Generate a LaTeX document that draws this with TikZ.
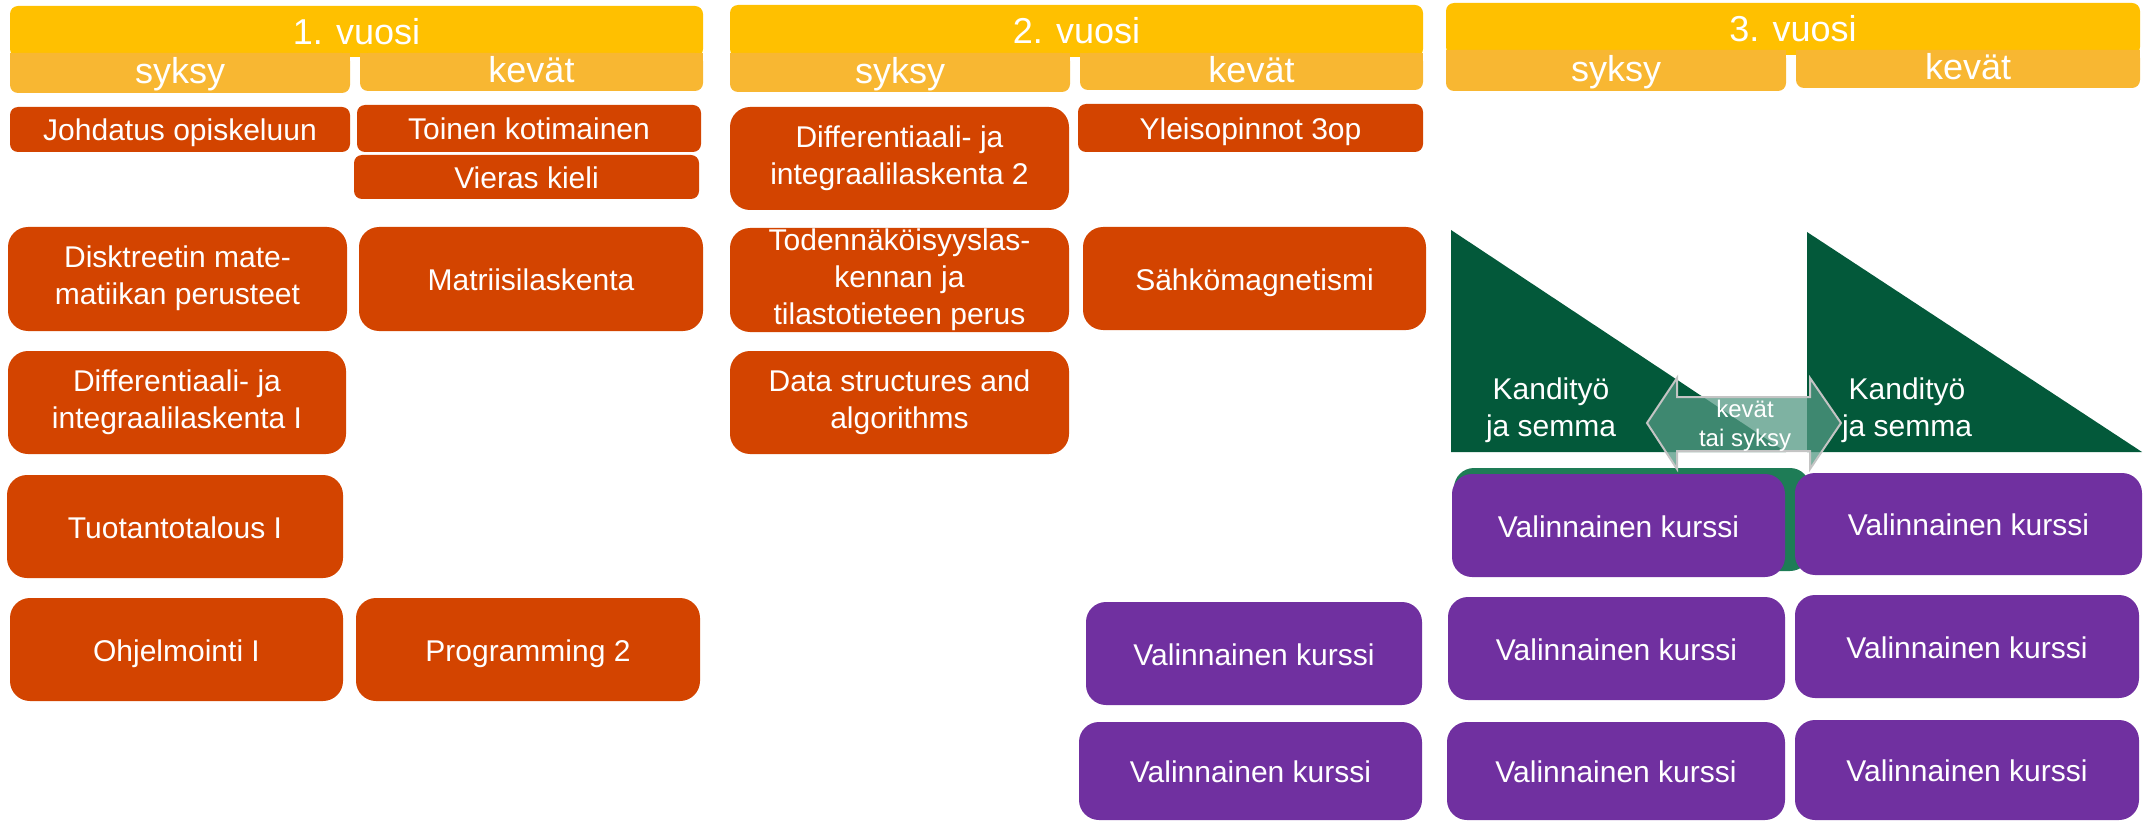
\documentclass[tikz,border=0pt]{standalone}
\usepackage{fontspec}
\setmainfont{Liberation Sans}
\definecolor{cyellow}{HTML}{FFC000}
\definecolor{csub}{HTML}{F8B732}
\definecolor{corange}{HTML}{D34400}
\definecolor{cpurple}{HTML}{7030A0}
\definecolor{cdgreen}{HTML}{03593A}
\definecolor{cband}{HTML}{1E7C56}
\definecolor{carrow}{HTML}{539883}
\definecolor{cagray}{HTML}{C4C4C4}
\begin{document}
\begin{tikzpicture}[x=1pt,y=-1pt,
  yearbox/.style={fill=cyellow, rounded corners=8pt, inner sep=0pt, text=white, font=\fontsize{36}{40}\selectfont},
  subbox/.style={fill=csub, rounded corners=8pt, inner sep=0pt, text=white, font=\fontsize{36}{40}\selectfont,
    execute at begin node={\rule{0pt}{29pt}}, execute at end node={\rule[-7pt]{0pt}{7pt}}},
  course/.style={rounded corners=20pt, inner sep=0pt, align=center, text=white, font=\fontsize{30}{37}\selectfont,
    execute at begin node={\rule{0pt}{30pt}}, execute at end node={\rule[-7pt]{0pt}{7pt}}},
  smallcourse/.style={course, rounded corners=8pt},
  obox/.style={course, fill=corange},
  osmall/.style={smallcourse, fill=corange},
  pbox/.style={course, fill=cpurple},
  kandi/.style={align=center, text=white, font=\fontsize{30}{37}\selectfont, inner sep=0pt},
  arrowlbl/.style={align=center, text=white, font=\fontsize{24}{29}\selectfont, inner sep=0pt}
]
\useasboundingbox (0,0) rectangle (2150,821);

% ---------- headers ----------
% year 1
\node[yearbox, minimum width=693pt, minimum height=51pt] (y1) at (356.5,31.5) {1. vuosi};
\fill[csub] (10,53) rectangle (350,73);
\fill[csub] (360,53) rectangle (703,73);
\node[subbox, minimum width=340pt, minimum height=40pt] (y1s) at (180,73) {syksy};
\node[subbox, minimum width=343pt, minimum height=38pt] (y1k) at (531.5,72) {kevät};
% year 2
\node[yearbox, minimum width=693pt, minimum height=52pt] (y2) at (1076.5,31) {2. vuosi};
\fill[csub] (730,53) rectangle (1070,73);
\fill[csub] (1080,53) rectangle (1423,73);
\node[subbox, minimum width=340pt, minimum height=39pt] (y2s) at (900,72.5) {syksy};
\node[subbox, minimum width=343pt, minimum height=37pt] (y2k) at (1251.5,71.5) {kevät};
% year 3
\node[yearbox, minimum width=694pt, minimum height=52pt] (y3) at (1793,29) {3. vuosi};
\fill[csub] (1446,50) rectangle (1786,70);
\fill[csub] (1796,50) rectangle (2140,70);
\node[subbox, minimum width=340pt, minimum height=41pt] (y3s) at (1616,70.5) {syksy};
\node[subbox, minimum width=344pt, minimum height=38pt] (y3k) at (1968,69) {kevät};

% ---------- year 1 ----------
\node[osmall, minimum width=340pt, minimum height=45pt] (johd) at (180,129.5) {Johdatus opiskeluun};
\node[obox, minimum width=339pt, minimum height=104pt] (disk) at (177.5,279) {Disktreetin mate-\\matiikan perusteet};
\node[obox, minimum width=338pt, minimum height=103pt] (diff1) at (177,402.5) {Differentiaali- ja\\integraalilaskenta I};
\node[obox, minimum width=336pt, minimum height=103pt] (tuot) at (175,526.5) {Tuotantotalous I};
\node[obox, minimum width=333pt, minimum height=103pt] (ohj) at (176.5,649.5) {Ohjelmointi I};

\node[osmall, minimum width=344pt, minimum height=47pt] (toinen) at (529,128.5) {Toinen kotimainen};
\node[osmall, minimum width=345pt, minimum height=44pt] (vieras) at (526.5,177) {Vieras kieli};
\node[obox, minimum width=344pt, minimum height=104pt] (matr) at (531,279) {Matriisilaskenta};
\node[obox, minimum width=344pt, minimum height=103pt] (prog2) at (528,649.5) {Programming 2};

% ---------- year 2 ----------
\node[obox, minimum width=339pt, minimum height=103pt] (diff2) at (899.5,158.5) {Differentiaali- ja\\integraalilaskenta 2};
\node[obox, minimum width=339pt, minimum height=104pt] (toden) at (899.5,280) {Todennäköisyyslas-\\kennan ja\\tilastotieteen perus};
\node[obox, minimum width=339pt, minimum height=103pt] (data) at (899.5,402.5) {Data structures and\\algorithms};

\node[osmall, minimum width=345pt, minimum height=48pt] (yleis) at (1250.5,128) {Yleisopinnot 3op};
\node[obox, minimum width=343pt, minimum height=103pt] (sahko) at (1254.5,278.5) {Sähkömagnetismi};
\node[pbox, minimum width=336pt, minimum height=103pt] (v2a) at (1254,653.5) {Valinnainen kurssi};
\node[pbox, minimum width=343pt, minimum height=98pt] (v2b) at (1250.5,771) {Valinnainen kurssi};

% ---------- year 3 ----------
\fill[cdgreen] (1451,230) -- (1451,452) -- (1786,452) -- cycle;
\fill[cdgreen] (1807,232) -- (1807,452) -- (2142,452) -- cycle;
\node[kandi] (kandi1) at (1551,410.5) {Kandityö\\ja semma};
\node[kandi] (kandi2) at (1907,410.5) {Kandityö\\ja semma};

\fill[cband, rounded corners=20pt] (1454,468) rectangle (1810,571);

\node[pbox, minimum width=333pt, minimum height=103pt] (v3a) at (1618.5,525.5) {Valinnainen kurssi};
\node[pbox, minimum width=347pt, minimum height=102pt] (v3b) at (1968.5,524) {Valinnainen kurssi};
\node[pbox, minimum width=337pt, minimum height=103pt] (v3c) at (1616.5,648.5) {Valinnainen kurssi};
\node[pbox, minimum width=344pt, minimum height=103pt] (v3d) at (1967,646.5) {Valinnainen kurssi};
\node[pbox, minimum width=338pt, minimum height=98pt] (v3e) at (1616,771) {Valinnainen kurssi};
\node[pbox, minimum width=344pt, minimum height=100pt] (v3f) at (1967,770) {Valinnainen kurssi};

% double arrow
\filldraw[fill=carrow, fill opacity=0.75, draw=cagray, line width=2pt, line join=miter]
  (1647,423) -- (1677,378) -- (1677,397) -- (1810,397) -- (1810,378) -- (1841,423)
  -- (1810,469) -- (1810,451) -- (1677,451) -- (1677,469) -- cycle;
\node[arrowlbl] (kt) at (1745,426) {kevät\\tai syksy};
\end{tikzpicture}
\end{document}
